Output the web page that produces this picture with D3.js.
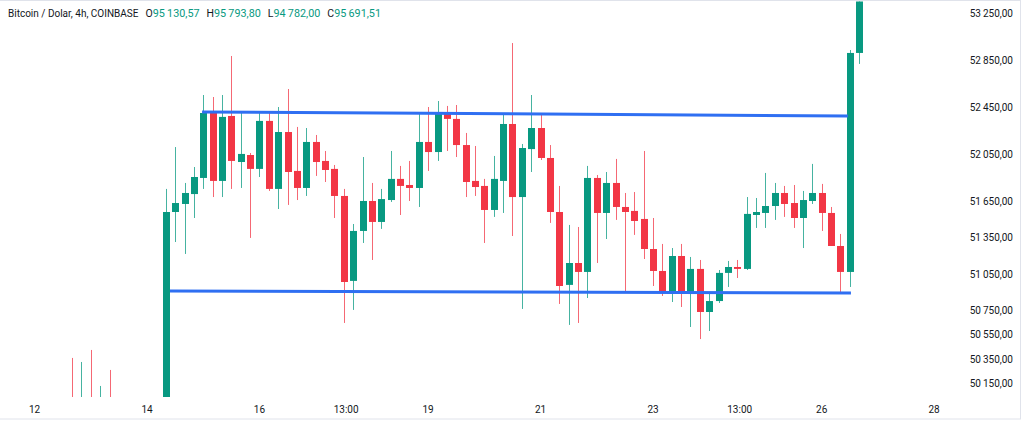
<!DOCTYPE html>
<html><head><meta charset="utf-8">
<script src="https://cdn.jsdelivr.net/npm/d3@7/dist/d3.min.js"></script>
<style>
html,body{margin:0;padding:0;background:#fff;}
svg{display:block;font-family:Roboto,"Liberation Sans",sans-serif;}
</style>
</head><body>
<svg id="c" width="1024" height="421"></svg>
<script>
// ---- data ----
// candle times: hours since day 12 00:00 (first candle: day 12 16:00, 4h bars)
const firstHour = 16;
const barHours = 4;
const opens = [49980,49820,50000,49900,49990,49900,49850,49880,49820,49860,
 49950,51566,51633,51716,51851,52399,51826,52374,51985,52044,51927,52332,51759,52238,51910,51767,52154,51994,51927,51700,
 50994,51408,51658,51483,51666,51843,51792,51767,52154,52069,52399,52349,52128,51826,51784,51583,51826,52306,51691,52094,
 52272,52019,51566,50961,51142,51068,51851,51558,51809,51608,51575,51508,51258,51076,50903,51200,50903,51093,50738,50828,
 51060,51109,51093,51541,51558,51616,51725,51641,51516,51658,51725,51558,51283,51068,52911];
const highs = [50362,50329,50427,50134,50264,49990,49960,49975,49940,49950,
 51759,52111,51809,51943,52552,52535,52552,52885,52408,52061,52399,52399,52450,52603,52281,52272,52213,52078,51960,51759,
 51466,52027,51809,51759,52078,51952,51994,52399,52450,52501,52459,52467,52230,52120,51843,52036,52391,52996,52137,52552,
 52391,52128,51784,51458,51441,51952,51876,51901,52011,51725,51733,52078,51516,51300,51266,51300,51192,51167,50894,51084,
 51159,51167,51691,51683,51893,51809,51784,51792,51742,51969,51801,51608,51383,52936,53450];
const lows = [49800,49780,49850,49870,49840,49800,49820,49790,49800,49810,
 49900,51316,51217,51516,51759,51691,51691,51759,51767,51350,51859,51742,51591,51625,51666,51700,51868,51817,51516,50648,
 50755,51308,51167,51425,51650,51541,51658,51608,51910,51994,52078,52027,51691,51700,51308,51525,51558,51366,50763,51901,
 52002,51475,50804,50632,50648,50853,51142,51341,51500,50903,51375,51175,50952,50870,50820,50779,50615,50516,50582,50812,
 50944,51018,51084,51433,51433,51500,51525,51433,51266,51633,51408,51283,50894,50944,52817];
const closes = [49850,49990,49900,50010,49880,49870,49880,49830,49850,49840,
 51566,51641,51725,51859,52399,51826,52366,51994,52053,51927,52332,51759,52238,51901,51767,52154,51985,51918,51700,50985,
 51408,51658,51483,51674,51843,51784,51767,52154,52069,52399,52349,52128,51817,51775,51583,51843,52306,51691,52103,52272,
 52019,51566,50952,51142,51068,51851,51558,51809,51608,51566,51491,51258,51076,50903,51200,50903,51093,50738,50828,51060,
 51109,51093,51550,51566,51616,51725,51633,51516,51666,51725,51558,51283,51068,52911,53420];

// channel lines drawn on the chart (hours, price)
const upperLine = [[71.5, 52408], [347.2, 52374]];
const lowerLine = [[57.8, 50911], [348.5, 50894]];

// axis ticks
const priceTicks = [53250,52850,52450,52050,51650,51350,51050,50750,50550,50350,50150];
const timeTickHours = [0,48,96,133,168,216,264,301,336,384];
const timeTickLabels = ["12","14","16","13:00","19","21","23","13:00","26","28"];

// header
const title = "Bitcoin / Dolar, 4h, COINBASE";
const ohlcKeys = ["O","H","L","C"];
const ohlcVals = ["95\u2009130,57","95\u2009793,80","94\u2009782,00","95\u2009691,51"];

// ---- drawing ----
const UP = "#089981", DOWN = "#f23645", LINE = "#2f6ff2", TXT = "#131722";
const svg = d3.select("#c");
const x = d3.scaleLinear().domain([0, 384]).range([34.6, 934.1]);
const y = d3.scaleLog().domain([50044.5, 53366.5]).range([397, 0]);

const candles = opens.map((o,i)=>({t:firstHour + i*barHours, o, h:highs[i], l:lows[i], c:closes[i]}));

// frame
svg.append("rect").attr("x",-1).attr("y",0.5).attr("width",1021.5).attr("height",418.5)
  .attr("fill","none").attr("stroke","#e0e3eb").attr("stroke-width",1);

svg.append("defs").append("clipPath").attr("id","plot")
  .append("rect").attr("x",0).attr("y",1.5).attr("width",965).attr("height",395.5);

const plot = svg.append("g").attr("clip-path","url(#plot)");

const g = plot.selectAll("g.candle").data(candles).join("g").attr("class","candle");
g.append("line")
  .attr("x1",d=>Math.round(x(d.t))+0.5).attr("x2",d=>Math.round(x(d.t))+0.5)
  .attr("y1",d=>y(d.h)).attr("y2",d=>y(d.l))
  .attr("stroke",d=>d.c>=d.o?UP:DOWN).attr("stroke-opacity",0.75).attr("stroke-width",1);
g.append("rect")
  .attr("x",d=>Math.round(x(d.t))-3).attr("width",7)
  .attr("y",d=>y(Math.max(d.o,d.c)))
  .attr("height",d=>Math.max(1, y(Math.min(d.o,d.c)) - y(Math.max(d.o,d.c))))
  .attr("fill",d=>d.c>=d.o?UP:DOWN);

const lineGen = d3.line().x(d=>x(d[0])).y(d=>y(d[1]));
[upperLine, lowerLine].forEach(L=>{
  plot.append("path").attr("d",lineGen(L)).attr("fill","none")
    .attr("stroke",LINE).attr("stroke-width",3).attr("stroke-linecap","butt");
});

// price axis
const loc = d3.formatLocale({decimal:",", thousands:"\u2009", grouping:[3], currency:["",""]});
const fmt = loc.format(",.2f");
svg.append("g").selectAll("text").data(priceTicks).join("text")
  .attr("x",1013).attr("y",d=>y(d)).attr("dy","0.35em").attr("text-anchor","end")
  .attr("font-size",10).attr("fill",TXT).text(d=>fmt(d));

// time axis
svg.append("g").selectAll("text").data(timeTickHours).join("text")
  .attr("x",d=>x(d)).attr("y",409).attr("dy","0.35em").attr("text-anchor","middle")
  .attr("font-size",10).attr("fill",TXT).text((d,i)=>timeTickLabels[i]);

// header
const hdr = svg.append("text").attr("x",8).attr("y",13).attr("dy","0.35em").attr("font-size",10).attr("fill",TXT);
hdr.append("tspan").text(title);
ohlcKeys.forEach((k,i)=>{
  hdr.append("tspan").attr("dx", i===0?7:7).attr("fill",TXT).attr("font-size",10.5).text(k);
  hdr.append("tspan").attr("fill",UP).attr("font-size",10.8).text(ohlcVals[i]);
});
</script>
</body></html>
